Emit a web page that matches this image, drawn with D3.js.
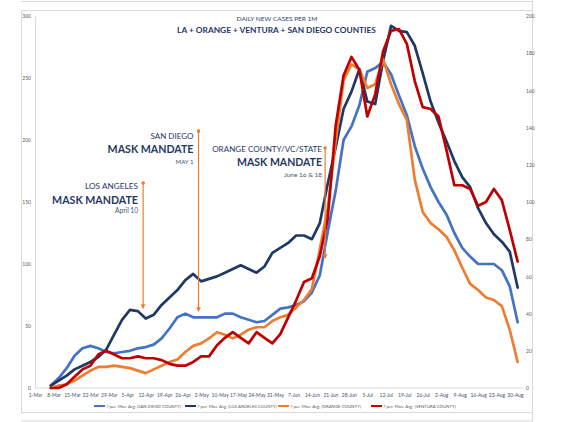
<!DOCTYPE html>
<html><head><meta charset="utf-8">
<script src="https://cdn.jsdelivr.net/npm/d3@7"></script>
<style>html,body{margin:0;padding:0;background:#fff;}svg{display:block;font-family:Lato,'Open Sans',sans-serif;}</style>
</head><body><svg id="c" width="573" height="422"></svg>
<script>
// ---------------- DATA ----------------
const dates = ["2020-03-07","2020-03-10","2020-03-13","2020-03-16","2020-03-19","2020-03-22","2020-03-25","2020-03-28","2020-03-31",
"2020-04-03","2020-04-06","2020-04-09","2020-04-12","2020-04-15","2020-04-18","2020-04-21","2020-04-24","2020-04-27","2020-04-30",
"2020-05-03","2020-05-06","2020-05-09","2020-05-12","2020-05-15","2020-05-18","2020-05-21","2020-05-24","2020-05-27","2020-05-30",
"2020-06-02","2020-06-05","2020-06-08","2020-06-11","2020-06-14","2020-06-17","2020-06-20","2020-06-23","2020-06-26","2020-06-29",
"2020-07-02","2020-07-05","2020-07-08","2020-07-11","2020-07-14","2020-07-17","2020-07-20","2020-07-23","2020-07-26","2020-07-29",
"2020-08-01","2020-08-04","2020-08-07","2020-08-10","2020-08-13","2020-08-16","2020-08-19","2020-08-22","2020-08-25","2020-08-28","2020-08-31"];

// 7-day moving averages, daily new cases per 1M (left axis)
const sanDiego = [2,8,16,26,32,34,32,29,28,29,30,32,33,35,40,48,57,60,57,57,57,57,60,60,57,55,53,54,59,64,65,67,70,77,91,126,159,200,211,228,255,258,263,253,236,220,195,177,162,150,140,125,113,106,100,100,100,95,82,53];
const losAngeles = [2,6,10,15,18,21,25,31,43,55,63,62,56,59,67,73,79,87,92,86,88,90,93,96,99,96,93,98,109,113,117,123,123,120,133,165,194,225,239,257,231,229,264,292,288,287,276,254,231,214,199,183,170,162,145,133,124,118,110,81];
const orange = [0,2,3,6,10,14,17,17,18,17,16,14,12,15,18,21,23,29,34,36,40,45,43,40,43,47,49,49,54,57,59,65,71,80,112,145,199,248,261,257,242,245,265,245,229,216,168,142,133,128,122,111,97,84,79,73,71,66,47,21];
// Ventura plotted on the secondary (right) axis
const ventura = [0,0,2,6,10,12,18,20,18,16,16,17,16,16,15,13,12,12,14,17,17,23,27,30,27,24,30,27,24,29,38,47,57,59,71,91,141,168,178,171,146,158,181,192,193,185,165,151,150,146,128,109,109,107,98,100,107,101,85,68];

const seriesNames = ["7 per. Mov. Avg. (SAN DIEGO COUNTY)","7 per. Mov. Avg. (LOS ANGELES COUNTY)","7 per. Mov. Avg. (ORANGE COUNTY)","7 per. Mov. Avg. (VENTURA COUNTY)"];
const seriesColors = ["#4472C4","#203864","#ED7D31","#C00000"];

const xTickLabels = ["1-Mar","8-Mar","15-Mar","22-Mar","29-Mar","5-Apr","12-Apr","19-Apr","26-Apr","3-May","10-May","17-May","24-May","31-May",
"7-Jun","14-Jun","21-Jun","28-Jun","5-Jul","12-Jul","19-Jul","26-Jul","2-Aug","9-Aug","16-Aug","23-Aug","30-Aug"];
const leftTicks = [0,50,100,150,200,250,300];
const rightTicks = [0,20,40,60,80,100,120,140,160,180,200];

const mandates = [
  {place:"LOS ANGELES", date:"2020-04-11", when:"April 10"},
  {place:"SAN DIEGO", date:"2020-05-02", when:"MAY 1"},
  {place:"ORANGE COUNTY/VC/STATE", date:"2020-06-19", when:"June 16 & 18"}
];

// ---------------- CHART ----------------
const svg = d3.select("#c");
const parse = d3.timeParse("%Y-%m-%d");
const parseTick = d3.timeParse("%d-%b-%Y");
const D = dates.map(parse);

const x = d3.scaleTime().domain([parse("2020-03-01"), parse("2020-08-30")]).range([35, 515]);
const yL = d3.scaleLinear().domain([0,300]).range([388,16]);
const yR = d3.scaleLinear().domain([0,200]).range([388,16]);

// frames
const g0 = svg.append("g").attr("stroke","#d9d9d9").attr("fill","none");
g0.append("line").attr("x1",21).attr("x2",533).attr("y1",1.5).attr("y2",1.5);
g0.append("rect").attr("x",21.5).attr("y",10.5).attr("width",511).attr("height",402);
g0.append("line").attr("x1",21).attr("x2",533).attr("y1",421).attr("y2",421);
g0.append("line").attr("x1",532.5).attr("x2",532.5).attr("y1",0).attr("y2",422);

const tickFont = 5, tickCol = "#595959";

// left axis
const la = svg.append("g").attr("transform","translate(35,0)")
  .call(d3.axisLeft(yL).tickValues(leftTicks).tickSize(0).tickPadding(4));
la.select(".domain").attr("stroke","#d9d9d9");
la.selectAll("text").attr("font-size",tickFont).attr("fill",tickCol).attr("font-family","Lato");

// right axis
const ra = svg.append("g").attr("transform","translate(523,0)")
  .call(d3.axisRight(yR).tickValues(rightTicks).tickSize(0).tickPadding(3));
ra.select(".domain").remove();
ra.selectAll("text").attr("font-size",tickFont).attr("fill",tickCol).attr("font-family","Lato");

// x axis
const xa = svg.append("g").attr("transform","translate(0,388)")
  .call(d3.axisBottom(x).tickValues(xTickLabels.map(s=>parseTick(s+"-2020"))).tickFormat(d3.timeFormat("%-d-%b")).tickSize(0).tickPadding(5));
xa.select(".domain").attr("stroke","#d9d9d9").attr("d","M35,0H523");
xa.selectAll("text").attr("font-size",tickFont).attr("fill","#44546A").attr("font-family","Lato");

// lines
const series = [
  {vals:sanDiego, y:yL},
  {vals:losAngeles, y:yL},
  {vals:orange, y:yL},
  {vals:ventura, y:yR}
];
series.forEach((s,i)=>{
  const line = d3.line().x((d,j)=>x(D[j])).y(d=>s.y(d));
  svg.append("path").datum(s.vals).attr("d",line)
    .attr("fill","none").attr("stroke",seriesColors[i]).attr("stroke-width",2.7)
    .attr("stroke-linejoin","round").attr("stroke-linecap","round");
});

// titles
function fit(t, w){ const L=t.node().getComputedTextLength(); const fs=parseFloat(t.attr("font-size")); t.attr("font-size", fs*w/L); return t; }
const navy = "#1F3864";
fit(svg.append("text").attr("x",277).attr("y",21).attr("text-anchor","middle").attr("font-size",7).attr("fill","#2F4470").text("DAILY NEW CASES PER 1M"),81);
fit(svg.append("text").attr("x",276.5).attr("y",33).attr("text-anchor","middle").attr("font-size",10).attr("font-weight","bold").attr("fill",navy).text("LA + ORANGE + VENTURA + SAN DIEGO COUNTIES"),199);

// mandate annotations
const ann = [
  {xr:138, yp:189, wp:53, ym:203.5, wm:86, yw:212.5, ww:23, top:183, bot:308},
  {xr:193.5, yp:139, wp:43, ym:153, wm:86, yw:164, ww:18, top:131, bot:311},
  {xr:322, yp:152, wp:110, ym:166, wm:85, yw:177, ww:38, top:148, bot:258}
];
const defs = svg.append("defs");
defs.append("marker").attr("id","ah").attr("viewBox","0 0 10 10").attr("refX",8).attr("refY",5)
  .attr("markerWidth",4).attr("markerHeight",4).attr("orient","auto")
  .append("path").attr("d","M0,0L10,5L0,10z").attr("fill","#ED7D31");
defs.append("marker").attr("id","ad").attr("viewBox","0 0 10 10").attr("refX",5).attr("refY",5)
  .attr("markerWidth",3).attr("markerHeight",3)
  .append("circle").attr("cx",5).attr("cy",5).attr("r",5).attr("fill","#ED7D31");
mandates.forEach((m,i)=>{
  const a = ann[i];
  const ax = x(parse(m.date));
  svg.append("line").attr("x1",ax).attr("x2",ax).attr("y1",a.top).attr("y2",a.bot)
    .attr("stroke","#ED7D31").attr("stroke-width",1.2)
    .attr("marker-start","url(#ad)").attr("marker-end","url(#ah)");
  fit(svg.append("text").attr("x",a.xr).attr("y",a.yp).attr("text-anchor","end").attr("font-size",9).attr("fill",navy).text(m.place),a.wp);
  fit(svg.append("text").attr("x",a.xr).attr("y",a.ym).attr("text-anchor","end").attr("font-size",13).attr("font-weight","bold").attr("fill",navy).text("MASK MANDATE"),a.wm);
  fit(svg.append("text").attr("x",a.xr).attr("y",a.yw).attr("text-anchor","end").attr("font-size",6).attr("fill","#44546A").text(m.when),a.ww);
});

// legend
const legX = [94,185,278,371];
const legW = [75,80,71,73];
seriesNames.forEach((n,i)=>{
  svg.append("rect").attr("x",legX[i]).attr("y",405).attr("width",11).attr("height",2).attr("fill",seriesColors[i]);
  fit(svg.append("text").attr("x",legX[i]+12).attr("y",407.8).attr("font-size",5).attr("fill","#595959").text(n),legW[i]);
});
</script></body></html>
